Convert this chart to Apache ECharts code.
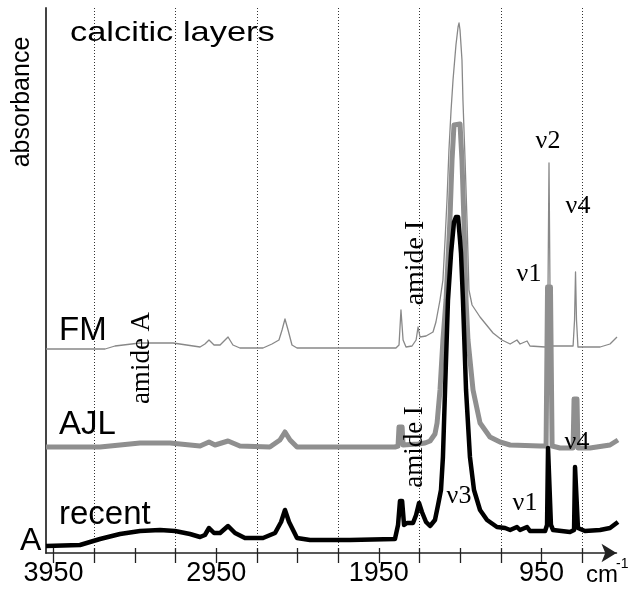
<!DOCTYPE html>
<html>
<head>
<meta charset="utf-8">
<script src="https://cdn.jsdelivr.net/npm/echarts@6/dist/echarts.min.js"></script>
<style>
  html, body { margin: 0; padding: 0; background: #fff; }
  #chart { width: 638px; height: 589px; }
</style>
</head>
<body>
<div id="chart"></div>
<script>
// ---- data (wavenumber cm-1, absorbance in arbitrary units) ----
const tickValues = [3950, 3700, 3450, 3200, 2950, 2700, 2450, 2200, 1950, 1700, 1450, 1200, 950, 700];
const tickLabels = ['3950', '2950', '1950', '950'];
const dottedTicks = ['3700', '3200', '2700', '2200', '1700', '1200', '700'];

const recent = [
  [3996, 7], [3787, 8], [3664, 14], [3541, 19], [3418, 22], [3295, 23], [3203, 22], [3111, 19],
  [3049, 16], [3019, 18], [2994, 25], [2963, 20], [2926, 20], [2877, 27], [2834, 20], [2773, 15],
  [2662, 15], [2588, 20], [2551, 31], [2527, 43], [2502, 31], [2453, 15], [2373, 13], [2127, 13],
  [1851, 14], [1832, 28], [1820, 52], [1807, 52], [1795, 28], [1777, 30], [1740, 30], [1721, 38],
  [1703, 50], [1685, 41], [1660, 31], [1635, 27], [1605, 33], [1586, 48], [1568, 63], [1556, 96],
  [1543, 163], [1525, 253], [1506, 300], [1488, 331], [1476, 336], [1463, 336], [1451, 313],
  [1445, 300], [1433, 253], [1414, 163], [1390, 96], [1365, 63], [1328, 43], [1285, 33], [1224, 26],
  [1174, 25], [1143, 23], [1101, 26], [1082, 23], [1039, 26], [1021, 22], [928, 22], [916, 28],
  [910, 105], [898, 105], [892, 28], [879, 23], [775, 21], [750, 23], [744, 86], [732, 86],
  [726, 25], [683, 22], [590, 23], [529, 25], [480, 31]
];

const ajl = [
  [3996, 106], [3664, 106], [3541, 108], [3418, 110], [3234, 110], [3049, 107], [2994, 111],
  [2957, 108], [2877, 112], [2804, 107], [2620, 106], [2558, 113], [2527, 121], [2496, 113],
  [2453, 106], [1851, 106], [1832, 107], [1826, 126], [1807, 126], [1801, 108], [1709, 109],
  [1666, 110], [1635, 112], [1605, 119], [1592, 130], [1574, 163], [1556, 213], [1537, 253],
  [1525, 293], [1513, 333], [1500, 393], [1488, 428], [1479, 429], [1451, 429], [1439, 393],
  [1427, 333], [1414, 253], [1402, 213], [1371, 163], [1328, 130], [1267, 116], [1205, 111],
  [1143, 108], [959, 107], [922, 107], [913, 266], [895, 266], [885, 107], [836, 105], [756, 105],
  [750, 154], [732, 154], [726, 105], [652, 105], [529, 108], [480, 113]
];

const fm = [
  [3996, 204], [3633, 204], [3572, 207], [3418, 210], [3215, 210], [3049, 206], [3019, 209],
  [2994, 213], [2963, 208], [2926, 208], [2877, 216], [2847, 208], [2804, 205], [2662, 205],
  [2607, 209], [2564, 213], [2545, 223], [2527, 234], [2508, 223], [2484, 208], [2453, 205],
  [1845, 205], [1826, 208], [1814, 243], [1801, 213], [1783, 206], [1746, 207], [1721, 213],
  [1709, 226], [1697, 216], [1660, 217], [1617, 221], [1599, 231], [1574, 253], [1556, 273],
  [1543, 313], [1531, 353], [1519, 403], [1506, 443], [1494, 473], [1476, 508], [1463, 526],
  [1457, 530], [1451, 523], [1439, 493], [1433, 453], [1420, 393], [1408, 333], [1396, 263],
  [1377, 248], [1328, 236], [1248, 220], [1193, 213], [1143, 209], [1101, 213], [1082, 209],
  [1039, 212], [1021, 207], [928, 206], [913, 207], [904, 390], [895, 207], [867, 207],
  [756, 207], [747, 233], [741, 281], [735, 233], [726, 206], [590, 206], [529, 209], [486, 216]
];

// ---- chart ----
const chart = echarts.init(document.getElementById('chart'), null, { renderer: 'canvas' });
const sans = '"Liberation Sans", Arial, sans-serif';
const serif = '"Liberation Serif", "Times New Roman", serif';
const axisColor = '#222';

function txt(text, x, y, font, opts) {
  opts = opts || {};
  return {
    type: 'text', x: x, y: y, rotation: opts.rotation || 0, scaleX: opts.scaleX || 1, z: 10,
    style: {
      text: text, font: font, fill: '#000',
      textAlign: opts.align || 'left', textVerticalAlign: 'middle'
    }
  };
}

const option = {
  backgroundColor: '#fff',
  animation: false,
  grid: [
    { left: 46, right: 14, top: 8, bottom: 36 },      // data
    { left: 53.5, right: 55.8, top: 8, bottom: 36 },  // ticks (outside), labels, dotted lines
    { left: 46, right: 21.5, top: 8, bottom: 36 },    // axis line with arrow
    { left: 53.5, right: 55.8, top: 8, bottom: 36 }   // ticks (inside)
  ],
  xAxis: [
    { gridIndex: 0, type: 'value', min: 443, max: 3996, inverse: true,
      axisLine: { show: false }, axisTick: { show: false }, axisLabel: { show: false }, splitLine: { show: false } },
    { gridIndex: 1, type: 'category', data: tickValues.map(String), boundaryGap: false,
      axisLine: { show: false },
      axisTick: { show: true, interval: 0, length: 10, lineStyle: { color: axisColor, width: 1.3 } },
      axisLabel: { show: true, interval: 0, margin: 7, color: '#000', fontSize: 27, fontFamily: sans,
        formatter: v => tickLabels.indexOf(v) >= 0 ? v : '' },
      splitLine: { show: true, interval: (i, v) => dottedTicks.indexOf(v) >= 0,
        lineStyle: { color: '#333', width: 1, type: [1, 2] } } },
    { gridIndex: 2, type: 'value', min: 0, max: 1,
      axisLine: { show: true, symbol: ['none', 'arrow'], symbolSize: [14, 15],
        lineStyle: { color: axisColor, width: 1.5 } },
      axisTick: { show: false }, axisLabel: { show: false }, splitLine: { show: false } },
    { gridIndex: 3, type: 'category', data: tickValues.map(String), boundaryGap: false,
      axisLine: { show: false },
      axisTick: { show: true, interval: 0, inside: true, length: 5, lineStyle: { color: axisColor, width: 1.3 } },
      axisLabel: { show: false }, splitLine: { show: false } }
  ],
  yAxis: [
    { gridIndex: 0, type: 'value', min: 0, max: 545,
      axisLine: { show: true, lineStyle: { color: '#444', width: 2 } },
      axisTick: { show: false }, axisLabel: { show: false }, splitLine: { show: false } },
    { gridIndex: 1, type: 'value', show: false },
    { gridIndex: 2, type: 'value', show: false },
    { gridIndex: 3, type: 'value', show: false }
  ],
  series: [
    { name: 'FM', type: 'line', xAxisIndex: 0, yAxisIndex: 0, data: fm, showSymbol: false,
      lineStyle: { color: '#888', width: 1.3, join: 'round' }, z: 3 },
    { name: 'AJL', type: 'line', xAxisIndex: 0, yAxisIndex: 0, data: ajl, showSymbol: false,
      lineStyle: { color: '#8f8f8f', width: 5, join: 'round' }, z: 4 },
    { name: 'recent', type: 'line', xAxisIndex: 0, yAxisIndex: 0, data: recent, showSymbol: false,
      lineStyle: { color: '#000', width: 4.5, join: 'round' }, z: 5 }
  ],
  graphic: [
    txt('calcitic layers', 70, 33, '28px ' + sans, { scaleX: 1.23 }),
    txt('absorbance', 22, 102, '25px ' + sans, { rotation: Math.PI / 2, align: 'center' }),
    txt('FM', 59, 331, '33px ' + sans),
    txt('AJL', 59, 425, '33px ' + sans),
    txt('recent', 59, 515, '33px ' + sans),
    txt('A', 20, 541, '32px ' + sans),
    txt('amide A', 142, 358, '27px ' + serif, { rotation: Math.PI / 2, align: 'center' }),
    txt('amide I', 416, 263, '28px ' + serif, { rotation: Math.PI / 2, align: 'center' }),
    txt('amide I', 415, 447, '27px ' + serif, { rotation: Math.PI / 2, align: 'center' }),
    txt('\u03bd2', 548, 141, '26px ' + serif, { align: 'center' }),
    txt('\u03bd4', 578, 206, '26px ' + serif, { align: 'center' }),
    txt('\u03bd1', 529, 274, '26px ' + serif, { align: 'center' }),
    txt('\u03bd3', 459, 496, '26px ' + serif, { align: 'center' }),
    txt('\u03bd1', 525, 503, '26px ' + serif, { align: 'center' }),
    txt('\u03bd4', 577, 442, '26px ' + serif, { align: 'center' }),
    txt('cm', 586, 575, '24px ' + sans),
    txt('-1', 616, 564, '14px ' + sans)
  ]
};
chart.setOption(option);
</script>
</body>
</html>
